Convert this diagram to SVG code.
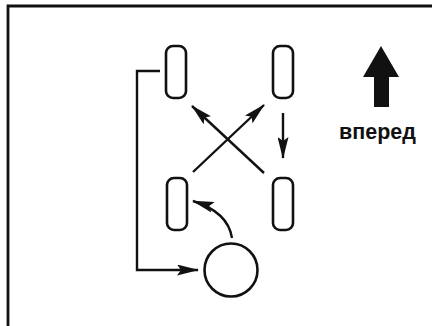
<svg xmlns="http://www.w3.org/2000/svg" width="432" height="326" viewBox="0 0 432 326">
<style>
.tire{fill:#fff;stroke:#111;stroke-width:2.6}
.ln{fill:none;stroke:#111;stroke-width:2.4}
.lbl{font-family:"Liberation Sans",Arial,sans-serif;font-weight:bold;font-size:21.5px;fill:#111}
</style>
<defs>
<marker id="ah" viewBox="0 0 22 11" refX="21" refY="5.5" markerWidth="22" markerHeight="11" markerUnits="userSpaceOnUse" orient="auto">
<path d="M0,0 L22,5.5 L0,11 L4,5.5 Z" fill="#111"/>
</marker>
</defs>
<rect width="432" height="326" fill="#fff"/>
<path d="M8,326 V6 H432" fill="none" stroke="#111" stroke-width="2.8"/>
<g id="tire-fl"><rect class="tire" x="166" y="46" width="20" height="52" rx="7"/></g>
<g id="tire-fr"><rect class="tire" x="273" y="46" width="20" height="52" rx="7"/></g>
<g id="tire-rl"><rect class="tire" x="167" y="178" width="20" height="52" rx="7"/></g>
<g id="tire-rr"><rect class="tire" x="273" y="178" width="20" height="52" rx="7"/></g>
<g id="spare"><circle class="tire" cx="231" cy="270" r="26.5"/></g>
<g id="forward">
<path d="M381,46 L399,77 L389,77 L389,107 L374,107 L374,77 L363,77 Z" fill="#111"/>
<text class="lbl" x="377.5" y="139" text-anchor="middle">вперед</text>
</g>
<g id="connectors">
<path class="ln" d="M160,71 H137 V270 H198" marker-end="url(#ah)"/>
<path class="ln" d="M193,172 L264,105" marker-end="url(#ah)"/>
<path class="ln" d="M264,173 L192,106" marker-end="url(#ah)"/>
<path class="ln" d="M283,113 V158" marker-end="url(#ah)"/>
<path class="ln" d="M232,238 Q228,212 193,201" marker-end="url(#ah)"/>
</g>
</svg>
